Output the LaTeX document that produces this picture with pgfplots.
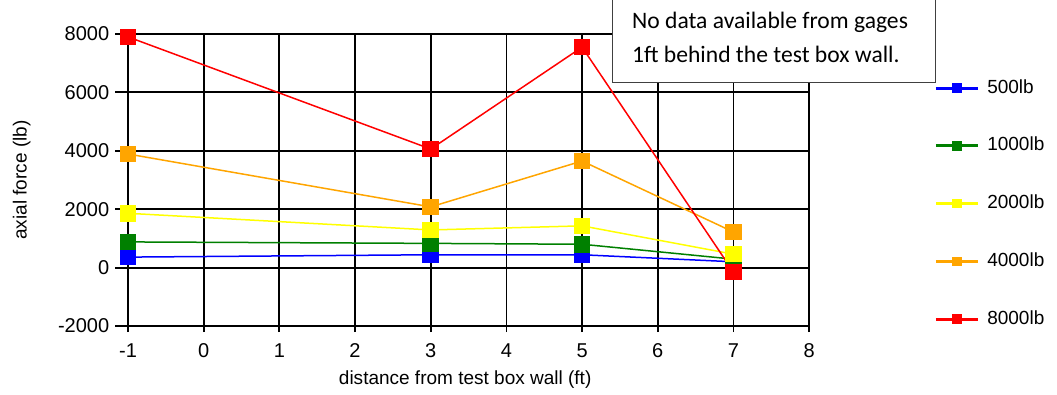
\documentclass[border=0pt]{standalone}
\usepackage{pgfplots}
\pgfplotsset{compat=1.18}
\usepackage{fontspec}
\setmainfont{Liberation Sans}
\newfontfamily\calibri{Carlito}

\definecolor{cblue}{RGB}{0,0,255}
\definecolor{cgreen}{RGB}{0,128,0}
\definecolor{cyellow}{RGB}{255,255,0}
\definecolor{corange}{RGB}{255,165,0}
\definecolor{cred}{RGB}{255,0,0}

\pgfplotsset{
  series/.style={color=#1, line width=1.5pt, mark=square*, mark size=7.5pt,
    mark options={solid, fill=#1, draw=none}},
}

\begin{document}
\begin{tikzpicture}
\begin{axis}[
  scale only axis, width=681pt, height=292pt,
  xmin=-1, xmax=8, ymin=-2000, ymax=8000,
  xtick={-1,0,...,8}, ytick={-2000,0,2000,4000,6000,8000},
  grid=major, major grid style={black, line width=1.8pt},
  axis line style={black, line width=1.8pt},
  tick align=outside, xtick pos=bottom, ytick pos=left,
  xtick style={black, line width=1.8pt, /pgfplots/major tick length=6pt},
  ytick style={black, line width=1.8pt, /pgfplots/major tick length=13pt},
  /pgf/number format/assume math mode=true,
  /pgf/number format/1000 sep={},
  ticklabel style={font=\fontsize{20}{24}\selectfont},
  xticklabel style={yshift=-10pt},
  yticklabel style={xshift=-11pt},
  xlabel={distance from test box wall (ft)},
  ylabel={axial force (lb)},
  label style={font=\fontsize{19}{23}\selectfont},
  xlabel style={at={(axis description cs:0.495,-0.185)}, anchor=center},
  ylabel style={at={(axis description cs:-0.156,0.5)}, anchor=center},
  clip=false,
  legend style={at={(axis description cs:1.1835,0.8459)}, anchor=north west,
    draw=none, fill=none, inner sep=0pt, row sep=39.75pt, column sep=8pt,
    nodes={inner sep=0pt, text height=14pt, text depth=4pt},
    font=\fontsize{19}{23}\selectfont},
  legend cell align=left,
  legend image code/.code={
    \draw[#1, line width=3pt, mark=none] (0pt,0pt) -- (42pt,0pt);
    \fill[#1] (17pt,-4pt) rectangle (25pt,4pt);
  },
]
\addplot[series=cblue] coordinates {(-1,360) (3,440) (5,440) (7,200)};
\addlegendentry{500lb}
\addplot[series=cgreen] coordinates {(-1,880) (3,830) (5,800) (7,290)};
\addlegendentry{1000lb}
\addplot[series=cyellow] coordinates {(-1,1860) (3,1290) (5,1430) (7,460)};
\addlegendentry{2000lb}
\addplot[series=corange] coordinates {(-1,3890) (3,2080) (5,3650) (7,1220)};
\addlegendentry{4000lb}
\addplot[series=cred] coordinates {(-1,7900) (3,4060) (5,7550) (7,-150)};
\addlegendentry{8000lb}

\node[draw=black!75, line width=1pt, fill=white, minimum width=323pt, minimum height=88pt,
  inner sep=0pt]
  at (axis description cs:0.9479,0.9829) {};
\node[anchor=base west, inner sep=0pt, align=left,
  font=\calibri\fontsize{23.6}{34}\selectfont]
  at (axis description cs:0.7398,0.9007)
  {No data available from gages\\1ft behind the test box wall.};

\coordinate (bl) at (axis description cs:-0.188,-0.233);
\coordinate (tr) at (axis description cs:1.364,1.1164);
\end{axis}
\pgfresetboundingbox
\path (bl) rectangle (tr);
\end{tikzpicture}
\end{document}
